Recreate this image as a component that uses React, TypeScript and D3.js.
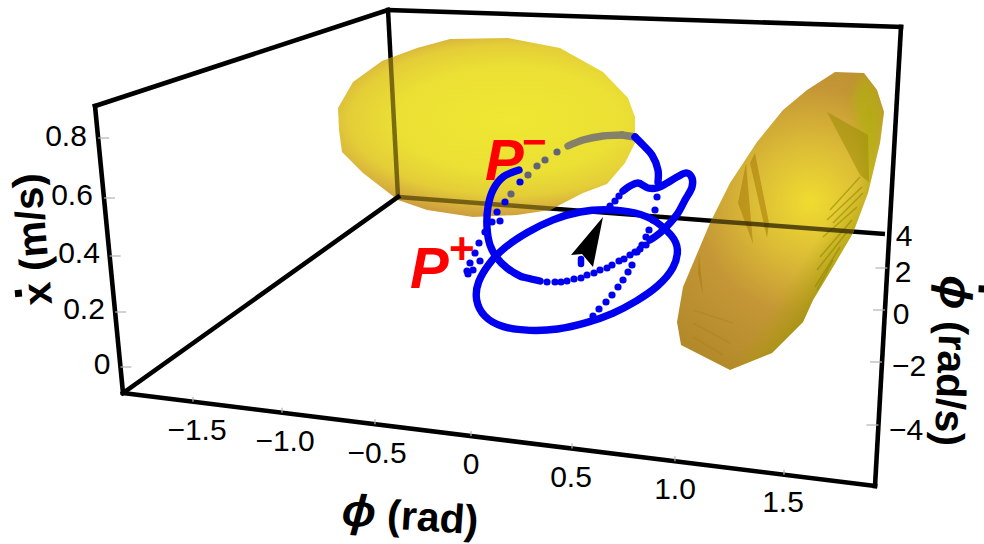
import React from "react";
import * as d3 from "d3";

type P = [number, number];

// Projected plane units: the picture is a 3D projection, so marks are read in plane units.
const phiTicks = [-1.5, -1, -0.5, 0, 0.5, 1, 1.5];
const phiTickLabels = ["\u22121.5", "\u22121.0", "\u22120.5", "0", "0.5", "1.0", "1.5"];
const phiTickPlane = [-2.77, -1.88, -0.95, 0.01, 1.02, 2.05, 3.14];
const phiLabelPlane: P[] = [[-2.73, -0.73], [-1.85, -0.84], [-0.93, -0.96], [0.01, -1.07], [1.01, -1.2], [2.05, -1.32], [3.13, -1.45]];

const xdotTicks = [0, 0.2, 0.4, 0.6, 0.8];
const xdotTickLabels = ["0", "0.2", "0.4", "0.6", "0.8"];
const xdotTickPlane = [0, 0.55, 1.11, 1.69, 2.29];
const xdotLabelPlane: P[] = [[-3.68, -0.07], [-3.86, 0.48], [-3.91, 1.04], [-3.98, 1.62], [-4.04, 2.21]];

const phidotTicks = [-4, -2, 0, 2];
const phidotTickPlane = [-0.58, 0.05, 0.57, 0.99];
const phidotLabels = ["\u22124", "\u22122", "0", "2", "4"];
const phidotLabelPlane: P[] = [[4.36, -0.73], [4.39, -0.09], [4.31, 0.43], [4.33, 0.85], [4.34, 1.21]];

const frontTopLeft: P = [-3.75, 2.61];
const frontBottomLeft: P = [-3.47, -0.26];
const backTopLeft: P = [-0.82, 3.57];
const backBottomLeft: P = [-0.72, 1.7];
const backTopRight: P = [4.31, 3.4];
const frontBottomRight: P = [4.05, -1.19];
const backBottomRight: P = [4.15, 1.33];

const blobLeft: P[] = [[-1.32, 2.59], [-1.17, 2.85], [-0.88, 3.06], [-0.53, 3.19], [-0.2, 3.28], [0.38, 3.29], [0.9, 3.19], [1.33, 2.95], [1.58, 2.69], [1.65, 2.5], [1.65, 2.24], [1.55, 2.04], [1.37, 1.83], [1.13, 1.74], [0.8, 1.57], [0.47, 1.52], [0.03, 1.5], [-0.43, 1.57], [-0.72, 1.67], [-1.07, 1.94], [-1.28, 2.15], [-1.31, 2.37]];
const blobRight: P[] = [[3.65, 2.95], [3.94, 2.94], [4.07, 2.77], [4.14, 2.55], [4.1, 2.24], [3.98, 1.74], [3.83, 1.34], [3.63, 1.0], [3.43, 0.67], [3.33, 0.45], [3.02, 0.14], [2.6, -0.03], [2.11, 0.22], [2.07, 0.45], [2.13, 0.8], [2.4, 1.44], [2.6, 1.84], [2.87, 2.25], [3.13, 2.57], [3.37, 2.77]];
const blobRightFacet: P[] = [[3.94, 2.94], [4.07, 2.77], [4.14, 2.55], [4.1, 2.24], [3.98, 1.74], [3.93, 2.2], [3.82, 2.7]];
const facetSpikes: P[][] = [
  [[3.57, 2.55], [3.98, 2.32], [3.99, 1.85], [3.9, 1.92]],
  [[2.85, 2.14], [2.99, 1.44], [2.97, 1.29], [2.8, 2.04]],
  [[2.76, 2.04], [2.83, 1.23], [2.68, 1.64]],
  [[2.29, 1.14], [2.33, 0.72], [2.28, 0.94]],
];
const facetHatches: [P, P][] = [
  [[3.9, 1.9], [3.6, 1.57]], [[3.92, 1.8], [3.57, 1.47]], [[3.93, 1.74], [3.63, 1.44]], [[3.87, 1.6], [3.53, 1.3]],
  [[3.82, 1.47], [3.5, 1.1]], [[3.77, 1.35], [3.47, 0.97]], [[3.7, 1.2], [3.45, 0.8]], [[3.63, 1.07], [3.47, 0.77]],
  [[2.23, 0.57], [2.63, 0.44]], [[2.23, 0.44], [2.6, 0.24]], [[2.23, 0.3], [2.53, 0.12]],
];

const arcFromPMinus: P[] = [[0.49, 1.97], [0.33, 1.9], [0.23, 1.77], [0.18, 1.6], [0.17, 1.4], [0.2, 1.22], [0.27, 1.09], [0.37, 0.99], [0.5, 0.91], [0.57, 0.89], [0.7, 0.86]];
const lowerArcDots: P[] = [[0.77, 0.85], [0.85, 0.85], [0.91, 0.85], [0.97, 0.86], [1.04, 0.88], [1.11, 0.89], [1.17, 0.92], [1.24, 0.94], [1.3, 0.97], [1.37, 0.99], [1.42, 1.02], [1.49, 1.06], [1.54, 1.08], [1.6, 1.12], [1.65, 1.15], [1.7, 1.18], [1.76, 1.22]];
const wing: P[] = [[1.8, 1.27], [1.9, 1.34], [2.0, 1.44], [2.08, 1.54], [2.15, 1.67], [2.22, 1.8], [2.22, 1.89], [2.17, 1.94], [2.07, 1.9], [1.97, 1.84], [1.87, 1.79], [1.78, 1.79], [1.68, 1.84], [1.6, 1.81], [1.53, 1.76]];
const wingDots: P[] = [[1.49, 1.71], [1.45, 1.66], [1.4, 1.61]];
const ellipseLoop: P[] = [[1.37, 1.58], [1.67, 1.55], [1.87, 1.46], [2.03, 1.31], [2.09, 1.19], [2.05, 0.99], [1.88, 0.8], [1.67, 0.66], [1.43, 0.53], [1.17, 0.44], [0.87, 0.37], [0.6, 0.36], [0.32, 0.39], [0.13, 0.5], [0.05, 0.67], [0.07, 0.85], [0.19, 1.04], [0.33, 1.19], [0.57, 1.35], [0.83, 1.48], [1.1, 1.56]];
const risingDots: P[] = [[1.23, 0.51], [1.29, 0.58], [1.36, 0.65], [1.42, 0.72], [1.48, 0.8], [1.53, 0.87], [1.58, 0.95], [1.62, 1.02], [1.67, 1.15], [1.72, 1.22], [1.76, 1.3], [1.79, 1.37], [1.83, 1.47], [1.85, 1.57], [1.87, 1.7], [1.88, 1.8]];
const upperArc: P[] = [[1.88, 1.85], [1.88, 1.97], [1.82, 2.12], [1.73, 2.22], [1.65, 2.3], [1.52, 2.32], [1.33, 2.31], [1.13, 2.27], [0.98, 2.21]];
const backDots: P[] = [[0.87, 2.15], [0.75, 2.07], [0.67, 2.01], [0.58, 1.92], [0.41, 1.73]];
const frontDots: P[] = [[0.5, 1.85], [0.35, 1.65], [0.27, 1.55], [0.22, 1.45], [0.3, 1.46]];
const tailDots: P[] = [[0.15, 1.35], [0.09, 1.24], [0.05, 1.14], [0.1, 1.06], [0.0, 1.04], [0.03, 0.97], [-0.02, 0.93], [-0.03, 0.96]];
const startStub: P[] = [[1.11, 1.08], [1.11, 1.03]];
const arrowHead: P[] = [[1.33, 1.5], [1.01, 1.12], [1.12, 1.13], [1.23, 1.0]];

const sx = d3.scaleLinear().domain([0, 1]).range([470, 570]);
const sy = d3.scaleLinear().domain([0, 1]).range([367, 267]);
const px = (p: P): P => [sx(p[0]), sy(p[1])];
const smooth = d3.line<P>().x((d) => sx(d[0])).y((d) => sy(d[1])).curve(d3.curveCatmullRom.alpha(0.5));
const loop = d3.line<P>().x((d) => sx(d[0])).y((d) => sy(d[1])).curve(d3.curveBasisClosed);
const poly = d3.line<P>().x((d) => sx(d[0])).y((d) => sy(d[1])).curve(d3.curveLinearClosed);
const seg = (a: P, b: P) => d3.line<P>().x((d) => sx(d[0])).y((d) => sy(d[1]))([a, b]) as string;

// Interpolators along the frame edges
const edge = (a: P, b: P) => d3.scaleLinear().domain([a[0], b[0]]).range([a[1], b[1]]);
const bottomEdge = edge(frontBottomLeft, frontBottomRight);
const leftEdgeU = d3.scaleLinear().domain([frontBottomLeft[1], frontTopLeft[1]]).range([frontBottomLeft[0], frontTopLeft[0]]);
const rightEdgeU = d3.scaleLinear().domain([frontBottomRight[1], backTopRight[1]]).range([frontBottomRight[0], backTopRight[0]]);
const phiScale = d3.scaleLinear().domain(phiTicks).range(phiTickPlane);
const xdotScale = d3.scaleLinear().domain(xdotTicks).range(xdotTickPlane);
const phidotScale = d3.scaleLinear().domain(phidotTicks).range(phidotTickPlane);

const FONT = "'Liberation Sans', Arial, sans-serif";
const BLUE = "#0000f0";
const DOT_R = 3.6;
const LINE_W = 7.4;

const backEdges: [P, P][] = [[backTopLeft, backBottomLeft], [backBottomLeft, backBottomRight]];
const otherEdges: [P, P][] = [
  [frontTopLeft, frontBottomLeft],
  [frontTopLeft, backTopLeft],
  [backTopLeft, backTopRight],
  [backTopRight, frontBottomRight],
  [frontBottomLeft, frontBottomRight],
  [frontBottomLeft, backBottomLeft],
];

export default function App() {
  const dots = (arr: P[], fill: string, r = DOT_R) =>
    arr.map((d, i) => <circle key={i} cx={sx(d[0])} cy={sy(d[1])} r={r} fill={fill} />);
  const thick = (arr: P[], stroke: string, w = LINE_W, opacity = 1) => (
    <path d={smooth(arr) as string} fill="none" stroke={stroke} strokeWidth={w} strokeLinecap="round" strokeLinejoin="round" opacity={opacity} />
  );
  const cxL = sx(0.4), cyL = sy(2.47);
  return (
    <svg width={984} height={544} style={{ position: "absolute", left: 0, top: 0, display: "block", background: "#fff" }}>
      <defs>
        <clipPath id="clipL"><path d={poly(blobLeft) as string} /></clipPath>
        <clipPath id="clipR"><path d={poly(blobRight) as string} /></clipPath>
        <filter id="soft" x="-50%" y="-50%" width="200%" height="200%"><feGaussianBlur stdDeviation="4" /></filter>
        <radialGradient id="gradL" gradientUnits="userSpaceOnUse" cx={cxL} cy={cyL} r={205}
          gradientTransform={`translate(${cxL},${cyL}) scale(1,0.47) translate(${-cxL},${-cyL})`}>
          <stop offset="0" stopColor="#efe732" />
          <stop offset="0.55" stopColor="#ebe034" />
          <stop offset="0.78" stopColor="#e4ce38" />
          <stop offset="0.93" stopColor="#d6ae3c" />
          <stop offset="1" stopColor="#cd9f3e" />
        </radialGradient>
        <radialGradient id="gradR" gradientUnits="userSpaceOnUse" cx={sx(3.4)} cy={sy(1.65)} r={185}>
          <stop offset="0" stopColor="#f0dc30" />
          <stop offset="0.3" stopColor="#dcbd36" />
          <stop offset="0.62" stopColor="#c49636" />
          <stop offset="1" stopColor="#b38a2a" />
        </radialGradient>
        <linearGradient id="gradRSide" gradientUnits="userSpaceOnUse" x1={sx(3.4)} y1={sy(1.7)} x2={sx(4.0)} y2={sy(1.3)}>
          <stop offset="0.4" stopColor="#a8a400" stopOpacity="0" />
          <stop offset="1" stopColor="#949000" stopOpacity="0.75" />
        </linearGradient>
      </defs>

      {/* frame behind the surfaces */}
      {backEdges.map(([a, b], i) => (
        <path key={i} d={seg(a, b)} stroke="#000" strokeWidth={4.5} fill="none" />
      ))}

      {/* surfaces */}
      <path d={poly(blobLeft) as string} fill="url(#gradL)" />
      <path d={poly(blobRight) as string} fill="url(#gradR)" />
      <path d={poly(blobRight) as string} fill="url(#gradRSide)" />
      <g clipPath="url(#clipR)">
        <path d={poly(blobRightFacet) as string} fill="#b0b010" opacity={0.7} filter="url(#soft)" />
        {facetSpikes.map((s, i) => (
          <path key={i} d={poly(s) as string} fill={i === 0 ? "#9a8c06" : "#a87a0a"} opacity={0.55} />
        ))}
        {facetHatches.map(([a, b], i) => (
          <path key={i} d={seg(a, b)} stroke={i < 8 ? "#8a8400" : "#a07c20"} strokeWidth={1.5} opacity={i < 8 ? 0.55 : 0.3} />
        ))}
      </g>

      {/* things seen through the surfaces */}
      <g clipPath="url(#clipL)">
        {backEdges.map(([a, b], i) => (
          <path key={i} d={seg(a, b)} stroke="#4a3c00" strokeWidth={4.5} fill="none" opacity={0.7} />
        ))}
      </g>
      <g clipPath="url(#clipR)">
        <path d={seg(backBottomLeft, backBottomRight)} stroke="#2a2000" strokeWidth={4.5} fill="none" opacity={0.75} />
      </g>
      {dots(backDots, "#62637a")}
      {thick(upperArc.slice(5), "#85806a")}
      {thick(upperArc.slice(4, 6), "#85806a")}
      {thick(upperArc.slice(0, 5), BLUE)}

      {/* frame */}
      {otherEdges.map(([a, b], i) => (
        <path key={i} d={seg(a, b)} stroke="#000" strokeWidth={4.6} strokeLinecap="square" fill="none" />
      ))}

      {/* tick marks */}
      <g stroke="#b4b4b4" strokeWidth={1.2}>
        {phiTicks.map((t) => {
          const u = phiScale(t);
          const v = bottomEdge(u);
          return <path key={t} d={seg([u, v], [u, v + 0.05])} />;
        })}
        {xdotTicks.map((t) => {
          const v = xdotScale(t);
          const u = leftEdgeU(v);
          return <path key={t} d={seg([u, v], [u + 0.11, v])} />;
        })}
        {phidotTicks.map((t) => {
          const v = phidotScale(t);
          const u = rightEdgeU(v);
          return <path key={t} d={seg([u, v], [u - 0.12, v])} />;
        })}
      </g>

      {/* trajectory */}
      {thick(arcFromPMinus, BLUE)}
      {dots(lowerArcDots, BLUE)}
      {thick(wing, BLUE)}
      {dots(wingDots, BLUE)}
      <path d={loop(ellipseLoop) as string} fill="none" stroke={BLUE} strokeWidth={7.4} strokeLinejoin="round" />
      {dots(risingDots, BLUE)}
      {dots(frontDots, BLUE)}
      {dots(tailDots, BLUE)}
      {thick(startStub, BLUE, 6.5)}
      <path d={poly(arrowHead) as string} fill="#000" />

      {/* tick labels */}
      <g fontFamily={FONT} fontSize={30} fill="#000" textAnchor="middle">
        {phiTickLabels.map((l, i) => {
          const [x, y] = px(phiLabelPlane[i]);
          return <text key={l} x={x} y={y}>{l}</text>;
        })}
        {xdotTickLabels.map((l, i) => {
          const [x, y] = px(xdotLabelPlane[i]);
          return <text key={l} x={x} y={y}>{l}</text>;
        })}
        {phidotLabels.map((l, i) => {
          const [x, y] = px(phidotLabelPlane[i]);
          return <text key={l} x={x} y={y}>{l}</text>;
        })}
      </g>

      {/* axis titles */}
      <g fontFamily={FONT} fontSize={41} fontWeight="bold" fill="#000">
        <g transform="translate(52,304) rotate(-95)">
          <text x={0} y={0}>x (m/s)</text>
          <rect x={10} y={-36} width={7} height={7} />
        </g>
        <g transform="translate(341,525) rotate(4)">
          <text x={0} y={0}><tspan fontStyle="italic" fontSize={45}>{"\u03d5"}</tspan> (rad)</text>
        </g>
        <g transform="translate(941,275) rotate(92)">
          <text x={0} y={0}><tspan fontStyle="italic" fontSize={45}>{"\u03d5"}</tspan> (rad/s)</text>
          <rect x={9} y={-45} width={7} height={7} />
        </g>
      </g>

      {/* fixed-point labels */}
      <g fontFamily={FONT} fontWeight="bold" fill="#ff0000">
        <text x={485} y={180} fontSize={58} fontStyle="italic">P</text>
        <text x={522} y={156} fontSize={42}>{"\u2212"}</text>
        <text x={410} y={288} fontSize={58} fontStyle="italic">P</text>
        <text x={449} y={264} fontSize={44}>+</text>
      </g>
    </svg>
  );
}
